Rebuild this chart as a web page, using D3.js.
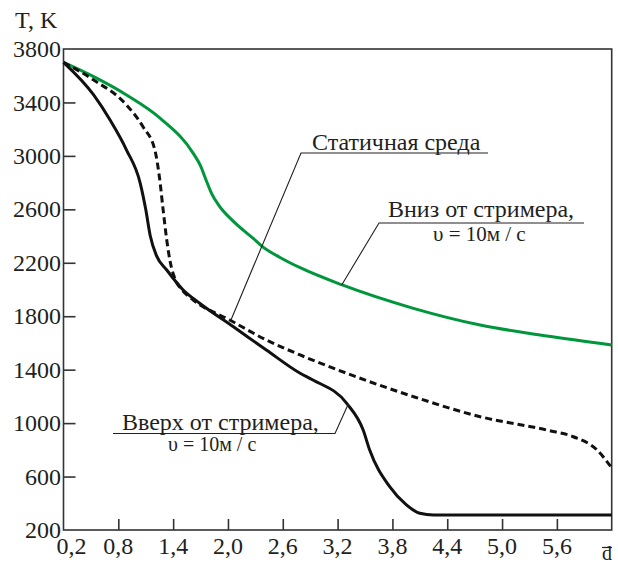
<!DOCTYPE html>
<html>
<head>
<meta charset="utf-8">
<script src="https://cdn.jsdelivr.net/npm/d3@7"></script>
<style>
  html, body { margin: 0; padding: 0; background: #fff; }
  svg text { font-family: "Liberation Serif", "DejaVu Serif", "Times New Roman", Times, serif; fill: #231f20; }
</style>
</head>
<body>
<div class="d3-wrapper"></div>
<script>
// Curves: d (relative distance) vs T, K
const staticD = [0.2, 0.53, 0.89, 1.07, 1.2, 1.25, 1.29, 1.33, 1.37, 1.42, 1.5, 1.62, 2.02, 2.42, 2.79, 3.3, 4.03, 4.76, 5.49, 5.78, 6.04, 6.2];
const staticT = [3700, 3568, 3381, 3218, 3044, 2840, 2600, 2370, 2200, 2080, 1995, 1921, 1772, 1622, 1510, 1373, 1198, 1048, 948, 898, 799, 665];

const upD = [0.2, 0.53, 0.71, 0.89, 1.04, 1.1, 1.15, 1.22, 1.33, 1.51, 1.69, 2.06, 2.42, 2.79, 2.93, 3.3, 3.48, 3.55, 3.77, 3.95, 4.1, 4.25, 6.2];
const upT = [3700, 3456, 3268, 3044, 2795, 2600, 2400, 2250, 2146, 1996, 1897, 1721, 1547, 1373, 1323, 1148, 948, 800, 524, 390, 325, 312, 312];

const downD = [0.2, 0.53, 0.89, 1.26, 1.62, 1.70, 1.76, 1.82, 1.90, 2.06, 2.28, 2.37, 2.57, 2.79, 3.25, 4.03, 4.76, 5.49, 6.2];
const downT = [3700, 3593, 3456, 3281, 3019, 2925, 2820, 2720, 2630, 2510, 2380, 2325, 2240, 2163, 2034, 1859, 1734, 1652, 1585];

const xTicks = [0.2, 0.8, 1.4, 2.0, 2.6, 3.2, 3.8, 4.4, 5.0, 5.6];
const yTicks = [200, 600, 1000, 1400, 1800, 2200, 2600, 3000, 3400, 3800];

const WIDTH = 618, HEIGHT = 565;
const PLOT = { left: 63.5, right: 611.7, top: 49, bottom: 530 };

const xScale = d3.scaleLinear().domain([0.2, 6.2]).range([PLOT.left, PLOT.right]);
const yScale = d3.scaleLinear().domain([200, 3800]).range([PLOT.bottom, PLOT.top]);

const svg = d3.select('.d3-wrapper').append('svg')
  .attr('width', WIDTH)
  .attr('height', HEIGHT)
  .style('font-family', '"Liberation Serif", "DejaVu Serif", serif');

const AXIS_COLOR = '#333';
const fmt = v => d3.format('.1f')(v).replace('.', ',');

// frame
svg.append('rect')
  .attr('x', PLOT.left)
  .attr('y', PLOT.top)
  .attr('width', PLOT.right - PLOT.left)
  .attr('height', PLOT.bottom - PLOT.top)
  .attr('fill', 'none')
  .attr('stroke', AXIS_COLOR)
  .attr('stroke-width', 1.6);

// inward ticks
const xAxis = d3.axisBottom(xScale)
  .tickValues(xTicks.slice(1))
  .tickSize(-11)
  .tickFormat('');
svg.append('g')
  .attr('transform', `translate(0, ${PLOT.bottom})`)
  .call(xAxis)
  .call(g => g.select('.domain').remove())
  .call(g => g.selectAll('line').attr('stroke', AXIS_COLOR).attr('stroke-width', 1.6));

const yAxis = d3.axisLeft(yScale)
  .tickValues(yTicks.slice(1, -1))
  .tickSize(-12)
  .tickFormat('');
svg.append('g')
  .attr('transform', `translate(${PLOT.left}, 0)`)
  .call(yAxis)
  .call(g => g.select('.domain').remove())
  .call(g => g.selectAll('line').attr('stroke', AXIS_COLOR).attr('stroke-width', 1.6));

// tick labels
svg.append('g').selectAll('text')
  .data(xTicks)
  .enter()
  .append('text')
  .attr('x', (d, i) => xScale(d) + (i === 0 ? 8 : 0))
  .attr('y', 554)
  .attr('text-anchor', 'middle')
  .style('font-size', '24px')
  .text(fmt);

svg.append('g').selectAll('text')
  .data(yTicks)
  .enter()
  .append('text')
  .attr('x', 61)
  .attr('y', d => yScale(d))
  .attr('dy', '0.34em')
  .attr('text-anchor', 'end')
  .style('font-size', '24px')
  .text(d => d);

svg.append('text')
  .attr('x', 15)
  .attr('y', 28)
  .style('font-size', '24px')
  .text('T, K');

svg.append('text')
  .attr('x', 607)
  .attr('y', 560)
  .attr('text-anchor', 'middle')
  .style('font-size', '20px')
  .text('d');
svg.append('line')
  .attr('x1', 602).attr('x2', 612)
  .attr('y1', 547.5).attr('y2', 547.5)
  .attr('stroke', '#231f20')
  .attr('stroke-width', 1.2);

// curves
const line = d3.line()
  .x(d => xScale(d[0]))
  .y(d => yScale(d[1]))
  .curve(d3.curveMonotoneX);

const series = [
  { d: downD, t: downT, color: '#00963c', dash: null },
  { d: staticD, t: staticT, color: '#111', dash: '7,4' },
  { d: upD, t: upT, color: '#111', dash: null }
];

svg.append('g').selectAll('path')
  .data(series)
  .enter()
  .append('path')
  .attr('d', s => line(s.d.map((v, i) => [v, s.t[i]])))
  .attr('fill', 'none')
  .attr('stroke', s => s.color)
  .attr('stroke-width', 3)
  .attr('stroke-dasharray', s => s.dash);

// annotations: leader from curve point to underline, then label
const annotations = [
  { at: [2.033, 1772], elbow: [301, 153], end: 488, lines: [{ text: 'Статичная среда', x: 312, y: 150, size: 24 }] },
  { at: [3.245, 2034], elbow: [379, 223], end: 584, lines: [
    { text: 'Вниз от стримера,', x: 388, y: 217, size: 24 },
    { text: 'υ = 10м / с', x: 433, y: 241, size: 21 }
  ] },
  { at: [3.317, 1143], elbow: [335, 433.5], end: 113, lines: [
    { text: 'Вверх от стримера,', x: 122, y: 430, size: 24 },
    { text: 'υ = 10м / с', x: 168, y: 451, size: 20 }
  ] }
];

annotations.forEach(a => {
  svg.append('polyline')
    .attr('points', [[xScale(a.at[0]), yScale(a.at[1])], a.elbow, [a.end, a.elbow[1]]].map(p => p.join(',')).join(' '))
    .attr('fill', 'none')
    .attr('stroke', '#231f20')
    .attr('stroke-width', 1.1);
  a.lines.forEach(l => {
    svg.append('text')
      .attr('x', l.x)
      .attr('y', l.y)
      .style('font-size', l.size + 'px')
      .text(l.text);
  });
});
</script>
</body>
</html>
